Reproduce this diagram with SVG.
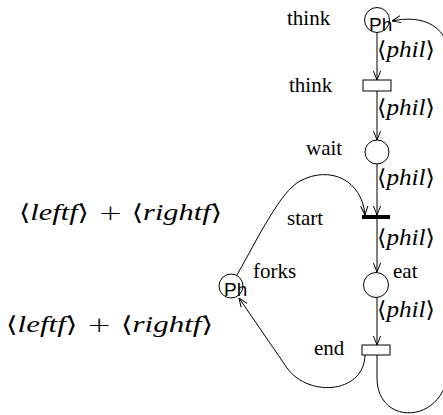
<svg xmlns="http://www.w3.org/2000/svg" width="443" height="415" viewBox="0 0 443 415">
<defs>
<style>
.lbl{font-family:'Liberation Serif','Times New Roman',serif;font-size:21px;fill:#000}
.ph{font-family:'Liberation Sans',Arial,sans-serif;font-size:19px;fill:#000}
.m{font-family:'DejaVu Sans','DejaVu Serif',serif;font-size:22px;fill:#000;font-weight:200}
.it{font-family:'Liberation Serif','Times New Roman',serif;font-style:italic;font-weight:normal;font-size:23px}
.place{fill:#fff;stroke:#000;stroke-width:1}
.trans{fill:#fff;stroke:#000;stroke-width:1}
.arc{fill:none;stroke:#000;stroke-width:1}
</style>
<marker id="ah" viewBox="0 0 10 10" refX="10" refY="5" markerWidth="9" markerHeight="9" markerUnits="userSpaceOnUse" orient="auto">
<path d="M0,1 L10,5 L0,9" fill="none" stroke="#000" stroke-width="1.1"/>
</marker>
</defs>
<g id="connectors">
<line class="arc" x1="377" y1="32" x2="377" y2="80" marker-end="url(#ah)"/>
<line class="arc" x1="377" y1="91" x2="377" y2="140" marker-end="url(#ah)"/>
<line class="arc" x1="377" y1="164" x2="377" y2="215" marker-end="url(#ah)"/>
<line class="arc" x1="377" y1="219" x2="377" y2="272" marker-end="url(#ah)"/>
<line class="arc" x1="377" y1="297" x2="377" y2="345" marker-end="url(#ah)"/>
<path class="arc" d="M237,275 C258,238 280,192 300,181 C330,165 362,180 365,215" marker-end="url(#ah)"/>
<path class="arc" d="M365,355 C364,395 305,398 285,365 L239,298" marker-end="url(#ah)"/>
<path class="arc" d="M377,355 L377,378 C377,425 440,425 448,375 L452,70 C452,22 420,15 392,21" marker-end="url(#ah)"/>
</g>
<g id="p-think">
<circle class="place" cx="377" cy="20" r="12.5"/>
<text class="ph" x="369" y="31">Ph</text>
<text class="lbl" x="287" y="25">think</text>
</g>
<g id="t-think">
<rect class="trans" x="363" y="80" width="28" height="11"/>
<text class="lbl" x="289" y="92">think</text>
</g>
<g id="p-wait">
<circle class="place" cx="377" cy="152" r="12"/>
<text class="lbl" x="306" y="155">wait</text>
</g>
<g id="t-start">
<rect x="362" y="215" width="28" height="4" fill="#000"/>
<text class="lbl" x="287" y="225">start</text>
</g>
<g id="p-eat">
<circle class="place" cx="376" cy="285" r="12.5"/>
<text class="lbl" x="393" y="278">eat</text>
</g>
<g id="t-end">
<rect class="trans" x="362" y="345" width="28" height="10"/>
<text class="lbl" x="314" y="355">end</text>
</g>
<g id="p-forks">
<circle class="place" cx="231" cy="286" r="12"/>
<text class="ph" x="224" y="296">Ph</text>
<text class="lbl" x="253" y="278">forks</text>
</g>
<g id="arc-labels">
<text class="m" x="377" y="57" textLength="58" lengthAdjust="spacingAndGlyphs">⟨<tspan class="it">phil</tspan>⟩</text>
<text class="m" x="377" y="115" textLength="58" lengthAdjust="spacingAndGlyphs">⟨<tspan class="it">phil</tspan>⟩</text>
<text class="m" x="377" y="185" textLength="58" lengthAdjust="spacingAndGlyphs">⟨<tspan class="it">phil</tspan>⟩</text>
<text class="m" x="377" y="245" textLength="58" lengthAdjust="spacingAndGlyphs">⟨<tspan class="it">phil</tspan>⟩</text>
<text class="m" x="377" y="317" textLength="58" lengthAdjust="spacingAndGlyphs">⟨<tspan class="it">phil</tspan>⟩</text>
<text class="m" x="19" y="220" textLength="203" lengthAdjust="spacingAndGlyphs">⟨<tspan class="it">leftf</tspan>⟩ + ⟨<tspan class="it">rightf</tspan>⟩</text>
<text class="m" x="6" y="332" textLength="207" lengthAdjust="spacingAndGlyphs">⟨<tspan class="it">leftf</tspan>⟩ + ⟨<tspan class="it">rightf</tspan>⟩</text>
</g>
</svg>
